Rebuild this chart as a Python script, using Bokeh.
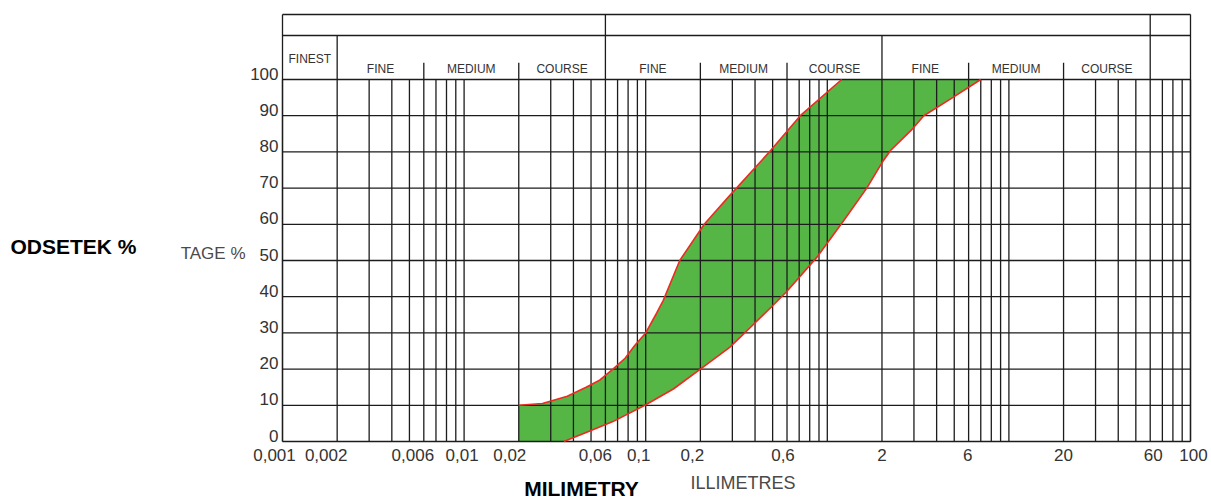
import math
from bokeh.plotting import figure
from bokeh.models import Range1d
from bokeh.core.properties import value
from bokeh.embed import file_html
from bokeh.resources import INLINE

# ---------------- data ----------------
# grading envelope (grain size in mm, percentage passing)
upper_mm = [0.02, 0.027, 0.037, 0.047, 0.056, 0.066, 0.077, 0.087, 0.10, 0.115, 0.125, 0.154, 0.21, 0.285, 0.49, 0.71, 1.2]
upper_pct = [10, 10.5, 12.5, 15, 17, 20, 23, 26.5, 30, 35.5, 39, 50, 60, 67.5, 80.5, 90, 100]
lower_mm = [0.0354, 0.047, 0.066, 0.099, 0.142, 0.20, 0.29, 0.377, 0.50, 0.60, 0.88, 1.23, 1.65, 2.03, 2.23, 2.9, 3.4, 4.9, 7.0]
lower_pct = [0, 2.5, 5.5, 10, 14.5, 20, 26, 31.5, 37.5, 41.5, 51, 61, 70, 77.5, 80.4, 86, 90, 95, 100]

x_label_vals = [0.001, 0.002, 0.006, 0.01, 0.02, 0.06, 0.1, 0.2, 0.6, 2, 6, 20, 60, 100]
x_labels = ["0,001", "0,002", "0,006", "0,01", "0,02", "0,06", "0,1", "0,2", "0,6", "2", "6", "20", "60", "100"]
y_ticks = [0, 10, 20, 30, 40, 50, 60, 70, 80, 90, 100]
y_labels = [str(v) for v in y_ticks]

# classification header
main_bounds = [0.06, 60]
group_bounds = [0.002, 2]
sub_bounds = [0.002, 0.006, 0.02, 0.06, 0.2, 0.6, 2, 6, 20, 60]
sub_names = ["FINE", "MEDIUM", "COURSE"] * 3
finest_bounds = [0.001, 0.002]
finest_name = "FINEST"

# ---------------- layout (page pixels -> data) ----------------
W, H = 1211, 500
X_MIN, X_MAX = 0.001, 100
PX_X0 = 282.0          # page x of X_MIN
PX_PER_DEC = 181.6     # pixels per decade
PX_Y0 = 441.0          # page y of 0 %
PX_PER_PCT = 3.62      # pixels per percent
# small horizontal nudges of the x tick labels (pixels), as in the printed sheet
x_label_nudge = [-8, -11, -11, -2, -9, -10, -7, -8, -4, 0, -1, 0, 3, 3]


def dx(px):
    return 10 ** (math.log10(X_MIN) + (px - PX_X0) / PX_PER_DEC)


def dy(py):
    return (PX_Y0 - py) / PX_PER_PCT


Y_TOP = dy(14)
HEADER_MID = dy(35)
HEADER_TICK = dy(62.3)

FONT = "Liberation Sans"
GREEN = "#55b646"
RED = "#ee2a22"
INK = "#1c1c1c"
TXT = "#333333"
LW = 1.3

p = figure(width=W, height=H, x_axis_type="log",
           x_range=Range1d(dx(0), dx(W)), y_range=Range1d(dy(H), dy(0)),
           output_backend="svg", toolbar_location=None, min_border=0)
p.xaxis.visible = False
p.yaxis.visible = False
p.xgrid.visible = False
p.ygrid.visible = False
p.outline_line_color = None
p.background_fill_color = "white"
p.border_fill_color = "white"

# envelope fill
band_x = [upper_mm[0]] + upper_mm + lower_mm[::-1]
band_y = [0] + upper_pct + lower_pct[::-1]
p.patch(x=band_x, y=band_y, fill_color=GREEN, line_color=None)

# grid
grid_x = [k * 10.0 ** n for n in range(-3, 2) for k in range(1, 10)] + [100]
p.segment(x0=grid_x, y0=0, x1=grid_x, y1=100, line_color=INK, line_width=LW)
p.segment(x0=X_MIN, y0=y_ticks, x1=X_MAX, y1=y_ticks, line_color=INK, line_width=LW)

# outer border + header structure
p.segment(x0=[X_MIN, X_MAX], y0=0, x1=[X_MIN, X_MAX], y1=Y_TOP, line_color=INK, line_width=LW)
p.segment(x0=X_MIN, y0=[HEADER_MID, Y_TOP], x1=X_MAX, y1=[HEADER_MID, Y_TOP], line_color=INK, line_width=LW)
p.segment(x0=main_bounds, y0=100, x1=main_bounds, y1=Y_TOP, line_color=INK, line_width=LW)
p.segment(x0=group_bounds, y0=100, x1=group_bounds, y1=HEADER_MID, line_color=INK, line_width=LW)
tick_bounds = [b for b in sub_bounds if b not in group_bounds + main_bounds]
p.segment(x0=tick_bounds, y0=100, x1=tick_bounds, y1=HEADER_TICK, line_color=INK, line_width=LW)

sub_centers = [math.sqrt(a * b) for a, b in zip(sub_bounds[:-1], sub_bounds[1:])]
p.text(x=sub_centers, y=dy(68.5), text=sub_names, text_align="center", text_baseline="middle",
       text_font=value(FONT), text_font_size="12px", text_color=TXT)
p.text(x=[math.sqrt(finest_bounds[0] * finest_bounds[1])], y=dy(58), text=[finest_name],
       text_align="center", text_baseline="middle",
       text_font=value(FONT), text_font_size="12px", text_color=TXT)

# envelope edges
p.line(upper_mm, upper_pct, line_color=RED, line_width=1.6)
p.line(lower_mm, lower_pct, line_color=RED, line_width=1.6)

# tick labels
p.text(x=x_label_vals, y=dy(454), text=x_labels, x_offset=x_label_nudge, text_align="center",
       text_baseline="middle", text_font=value(FONT), text_font_size="17px", text_color=TXT)
y_label_pos = [v + 6 / PX_PER_PCT for v in y_ticks]
p.text(x=X_MIN, y=y_label_pos, text=y_labels, x_offset=-4, text_align="right",
       text_baseline="middle", text_font=value(FONT), text_font_size="17px", text_color=TXT)

# titles
p.text(x=[dx(10)], y=[dy(245.8)], text=["ODSETEK %"], text_align="left", text_baseline="middle",
       text_font=value(FONT), text_font_size="21px", text_font_style="bold", text_color="black")
p.text(x=[dx(245)], y=[dy(253.3)], text=["TAGE %"], text_align="right", text_baseline="middle",
       text_font=value(FONT), text_font_size="17px", text_color="#4a4a4a")
p.text(x=[dx(581)], y=[dy(488)], text=["MILIMETRY"], text_align="center", text_baseline="middle",
       text_font=value(FONT), text_font_size="21px", text_font_style="bold", text_color="black")
p.text(x=[dx(742.5)], y=[dy(482.5)], text=["ILLIMETRES"], text_align="center", text_baseline="middle",
       text_font=value(FONT), text_font_size="18px", text_color="#4a4a4a")

open("out.html", "w").write(file_html(p, INLINE))
